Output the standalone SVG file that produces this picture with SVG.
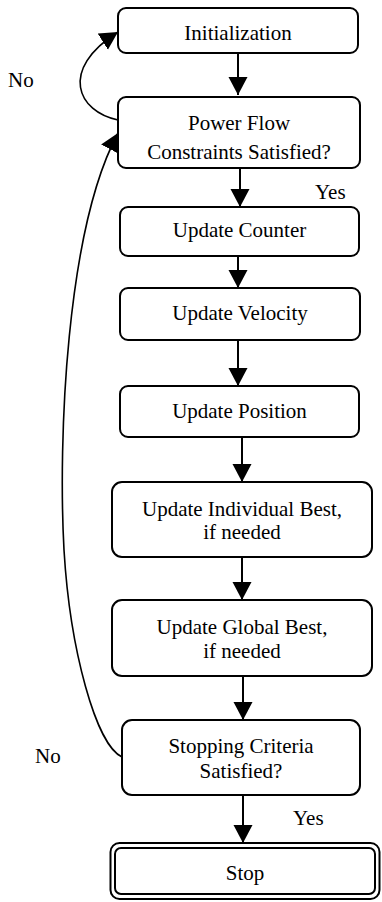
<svg xmlns="http://www.w3.org/2000/svg" width="382" height="902" viewBox="0 0 382 902">
<style>
.box{fill:#fff;stroke:#000;stroke-width:2}
.t{font-family:"Liberation Serif","Times New Roman",serif;font-size:21px;fill:#000;text-anchor:middle}
.lbl{font-family:"Liberation Serif","Times New Roman",serif;font-size:21px;fill:#000}
.c{fill:none;stroke:#000;stroke-width:2}
.cu{fill:none;stroke:#000;stroke-width:1.6}
</style>
<defs>
<marker id="ah" markerUnits="userSpaceOnUse" markerWidth="20" markerHeight="20" viewBox="0 0 20 20" refX="18" refY="10" orient="auto">
<path d="M0,0.5 L18,10 L0,19.5 Z" fill="#000"/>
</marker>
</defs>
<rect width="382" height="902" fill="#fff"/>
<g id="connectors">
<path class="c" d="M238,53 V95" marker-end="url(#ah)"/>
<path class="c" d="M240,168 V207" marker-end="url(#ah)"/>
<path class="c" d="M238,256 V288" marker-end="url(#ah)"/>
<path class="c" d="M238,340 V386" marker-end="url(#ah)"/>
<path class="c" d="M242,437 V482" marker-end="url(#ah)"/>
<path class="c" d="M242,557 V600" marker-end="url(#ah)"/>
<path class="c" d="M243,675 V720" marker-end="url(#ah)"/>
<path class="c" d="M243,795 V843" marker-end="url(#ah)"/>
<path class="cu" d="M118,120 C78,112 58,70 118,32" marker-end="url(#ah)"/>
<path class="cu" d="M122,757 C96,745 70,650 64,550 C58,440 66,230 118,133" marker-end="url(#ah)"/>
<text class="lbl" x="8" y="87">No</text>
<text class="lbl" x="315" y="199">Yes</text>
<text class="lbl" x="35" y="763">No</text>
<text class="lbl" x="293" y="825">Yes</text>
</g>
<g id="n-init">
<rect class="box" x="118" y="8" width="240" height="45" rx="8"/>
<text class="t" x="238" y="40">Initialization</text>
</g>
<g id="n-pf">
<rect class="box" x="118" y="97" width="242" height="71" rx="8"/>
<text class="t" x="239" y="130">Power Flow</text>
<text class="t" x="239" y="159">Constraints Satisfied?</text>
</g>
<g id="n-counter">
<rect class="box" x="120" y="207" width="239" height="49" rx="8"/>
<text class="t" x="239.5" y="237">Update Counter</text>
</g>
<g id="n-velocity">
<rect class="box" x="120" y="288" width="240" height="52" rx="8"/>
<text class="t" x="240" y="320">Update Velocity</text>
</g>
<g id="n-position">
<rect class="box" x="120" y="386" width="239" height="51" rx="8"/>
<text class="t" x="239.5" y="418">Update Position</text>
</g>
<g id="n-ibest">
<rect class="box" x="112" y="482" width="260" height="75" rx="10"/>
<text class="t" x="242" y="516">Update Individual Best,</text>
<text class="t" x="242" y="539">if needed</text>
</g>
<g id="n-gbest">
<rect class="box" x="112" y="600" width="260" height="76" rx="10"/>
<text class="t" x="242" y="634">Update Global Best,</text>
<text class="t" x="242" y="658">if needed</text>
</g>
<g id="n-stopcrit">
<rect class="box" x="122" y="720" width="238" height="75" rx="10"/>
<text class="t" x="241" y="753">Stopping Criteria</text>
<text class="t" x="241" y="778">Satisfied?</text>
</g>
<g id="n-stop">
<rect class="box" x="110.5" y="843" width="269" height="56" rx="9" stroke-width="2.5"/>
<rect class="box" x="115" y="848" width="260" height="46" rx="6" stroke-width="1.5"/>
<text class="t" x="245" y="880">Stop</text>
</g>
</svg>
